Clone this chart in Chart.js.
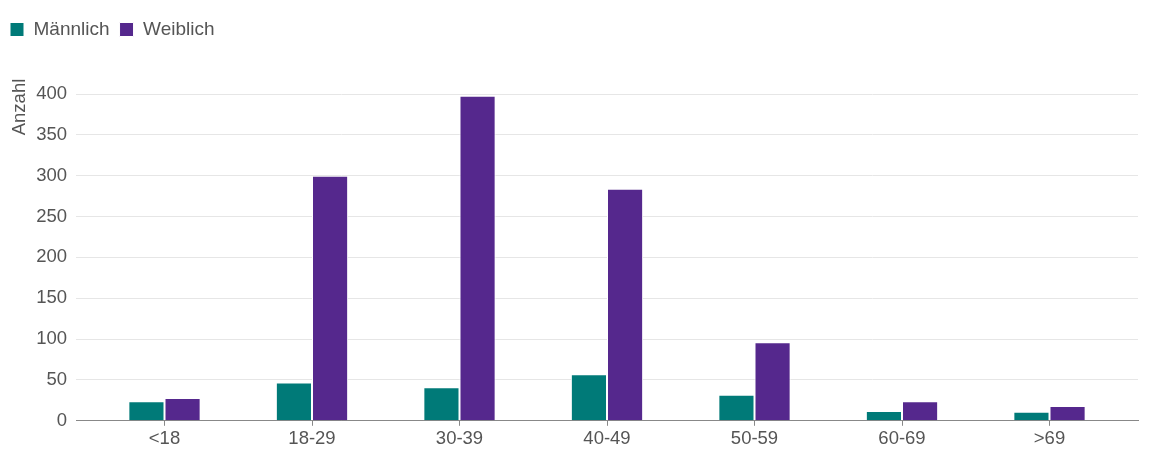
<!DOCTYPE html>
<html>
<head>
<meta charset="utf-8">
<script src="https://cdn.jsdelivr.net/npm/chart.js"></script>
<style>
    html, body { margin: 0; padding: 0; background: #fff; }
    #wrap { width: 1152px; height: 460px; }
</style>
</head>
<body>
<div id="wrap"><canvas id="ageChart"></canvas></div>

<script>
    const ageGroups = ['<18', '18-29', '30-39', '40-49', '50-59', '60-69', '>69'];
    const maennlich = [24, 47, 41, 57, 32, 12, 11];
    const weiblich = [28, 300, 398, 284, 96, 24, 18];
    const yTicks = [0, 50, 100, 150, 200, 250, 300, 350, 400];

    const textColor = '#555555';
    const font = { family: '"Liberation Sans", Arial, sans-serif', size: 18.5 };

    // extra room between legend and plot
    const legendMargin = {
        id: 'legendMargin',
        afterInit(chart) {
            const fit = chart.legend.fit;
            chart.legend.fit = function () {
                fit.bind(chart.legend)();
                this.height += 45;
            };
        }
    };

    // y axis title sits near the top of the axis
    const axisTitle = {
        id: 'axisTitle',
        afterDraw(chart) {
            const ctx = chart.ctx;
            ctx.save();
            ctx.translate(20, 107);
            ctx.rotate(-Math.PI / 2);
            ctx.font = '18.5px "Liberation Sans", Arial, sans-serif';
            ctx.fillStyle = textColor;
            ctx.textAlign = 'center';
            ctx.textBaseline = 'middle';
            ctx.fillText('Anzahl', 0, 0);
            ctx.restore();
        }
    };

    const toPoints = arr => arr.map((v, i) => ({ x: i, y: v }));

    new Chart(document.getElementById('ageChart'), {
        type: 'bar',
        data: {
            datasets: [{
                label: 'Männlich',
                data: toPoints(maennlich),
                backgroundColor: '#007a78',
                borderColor: '#ffffff',
                borderWidth: 1
            }, {
                label: 'Weiblich',
                data: toPoints(weiblich),
                backgroundColor: '#55288d',
                borderColor: '#ffffff',
                borderWidth: 1
            }]
        },
        options: {
            responsive: true,
            maintainAspectRatio: false,
            animation: false,
            categoryPercentage: 0.49,
            barPercentage: 1,
            layout: { padding: { top: 10, right: 14, bottom: 8, left: 0 } },
            plugins: {
                legend: {
                    position: 'top',
                    align: 'start',
                    labels: {
                        boxWidth: 14,
                        boxHeight: 14,
                        padding: 10,
                        color: textColor,
                        font: { family: font.family, size: 19 }
                    }
                },
                tooltip: { enabled: false }
            },
            scales: {
                x: {
                    type: 'linear',
                    min: -0.6,
                    max: 6.6,
                    offset: false,
                    afterBuildTicks: s => { s.ticks = ageGroups.map((_, i) => ({ value: i })); },
                    ticks: {
                        callback: v => ageGroups[v],
                        color: textColor,
                        font: font,
                        padding: 2,
                        autoSkip: false,
                        maxRotation: 0
                    },
                    grid: {
                        offset: false,
                        drawOnChartArea: false,
                        drawTicks: true,
                        tickLength: 5,
                        tickColor: '#888888'
                    },
                    border: { color: '#888888', width: 1 }
                },
                y: {
                    min: 0,
                    max: 400,
                    afterBuildTicks: s => { s.ticks = yTicks.map(v => ({ value: v })); },
                    afterFit: s => { s.width = 76; },
                    ticks: {
                        color: textColor,
                        font: font,
                        padding: 9
                    },
                    grid: {
                        color: c => c.tick && c.tick.value === 0 ? '#888888' : '#e6e6e6',
                        drawTicks: false
                    },
                    border: { display: false }
                }
            }
        },
        plugins: [legendMargin, axisTitle]
    });
</script>
</body>
</html>
